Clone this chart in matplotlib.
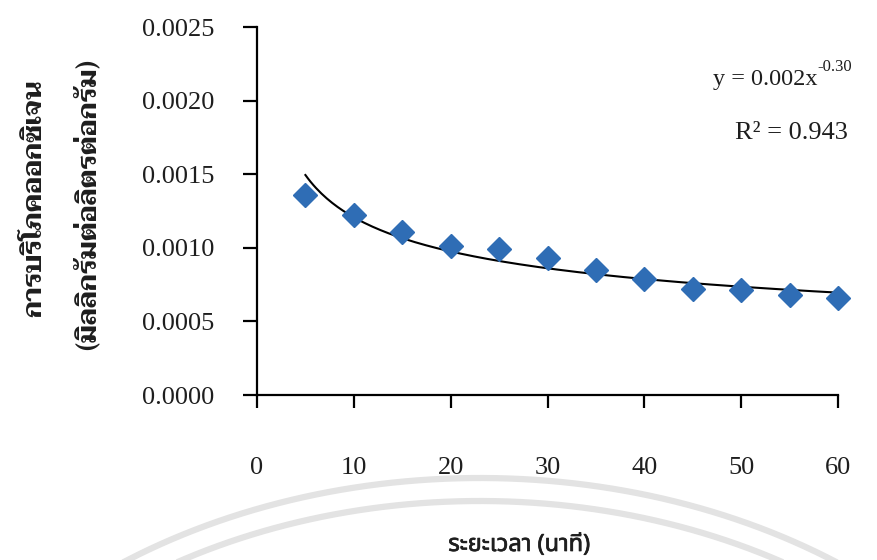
import matplotlib
matplotlib.use('Agg')
import matplotlib.pyplot as plt
import matplotlib.patheffects as pe
from matplotlib.lines import Line2D
import numpy as np

# data
time_min = [5, 10, 15, 20, 25, 30, 35, 40, 45, 50, 55, 60]
oxygen = [0.00136, 0.00122, 0.00111, 0.00101, 0.00099, 0.00093,
          0.00085, 0.00079, 0.00072, 0.00071, 0.00068, 0.00066]
x_ticks = [0, 10, 20, 30, 40, 50, 60]
y_ticks = [0.0, 0.0005, 0.0010, 0.0015, 0.0020, 0.0025]
eq_base = 'y = 0.002x'
eq_power = '-0.30'
r2_text = 'R² = 0.943'
ylabel_1 = 'การบริโภคออกซิเจน'
ylabel_2 = '(มิลลิกรัมต่อลิตรต่อกรัม)'
xlabel = 'ระยะเวลา (นาที)'

num_font = 'Liberation Serif'
ink = '#1e1e1e'
W, H = 878, 560

fig = plt.figure(figsize=(8.78, 5.6), dpi=100)

# faint watermark arcs at the bottom (pixel units, from top-left)
t = np.linspace(0, np.pi, 300)
for a, b in [(620, 463), (595, 440)]:
    px = 480 + a * np.cos(t)
    py = 941 - b * np.sin(t)
    fig.add_artist(Line2D(px / W, 1 - py / H, color='#e3e3e3', lw=4.5,
                          transform=fig.transFigure, zorder=0))

ax = fig.add_axes([257 / W, 1 - 395 / H, 581 / W, 368 / H])
ax.set_facecolor('none')

# power-law trend line fitted in log space
coef = np.polyfit(np.log(time_min), np.log(oxygen), 1)
xf = np.linspace(5, 60, 200)
yf = np.exp(coef[1]) * xf ** coef[0]
ax.plot(xf, yf, color='black', lw=1.5, zorder=2)

ax.plot(time_min, oxygen, linestyle='none', marker='D', markersize=12,
        color='#2f6db5', markeredgecolor='#2f6db5', zorder=3,
        clip_on=False)

ax.set_xlim(0, 60)
ax.set_ylim(0, 0.0025)
ax.set_xticks(x_ticks)
ax.set_yticks(y_ticks)
ax.set_yticklabels(['{:.4f}'.format(v) for v in y_ticks])
for s in ['top', 'right']:
    ax.spines[s].set_visible(False)
for s in ['left', 'bottom']:
    ax.spines[s].set_linewidth(1.6)
ax.tick_params(axis='y', direction='out', length=10, width=1.6, pad=21,
               labelsize=19)
ax.tick_params(axis='x', direction='out', length=9, width=1.6, pad=36,
               labelsize=19)
for lab in ax.get_xticklabels() + ax.get_yticklabels():
    lab.set_fontfamily(num_font)
    lab.set_color(ink)

eq = fig.text(713 / W, 1 - 80 / H, eq_base, ha='left', va='center',
              fontsize=17.5, family=num_font, color=ink)
fig.add_artist(plt.Annotation(eq_power, xy=(1.0, 0.72), xycoords=eq,
                              ha='left', va='bottom', fontsize=12,
                              family=num_font, color=ink))
fig.text(735 / W, 1 - 133 / H, r2_text, ha='left', va='center',
         fontsize=19, family=num_font, color=ink)

thai_y = ['Taviraj', 'DejaVu Sans']
fig.text(35 / W, 1 - 198 / H, ylabel_1, rotation=90, ha='center',
         va='center', fontsize=19, fontweight='bold', family=thai_y,
         color=ink)
fig.text(88 / W, 1 - 205 / H, ylabel_2, rotation=90, ha='center',
         va='center', fontsize=19, fontweight='bold', family=thai_y,
         color=ink)
fig.text(519 / W, 1 - 545 / H, xlabel, ha='center', va='center',
         fontsize=17, family=['Noto Sans Thai', 'DejaVu Sans'], color=ink,
         path_effects=[pe.withStroke(linewidth=0.5, foreground=ink)])

fig.savefig('out.png')
